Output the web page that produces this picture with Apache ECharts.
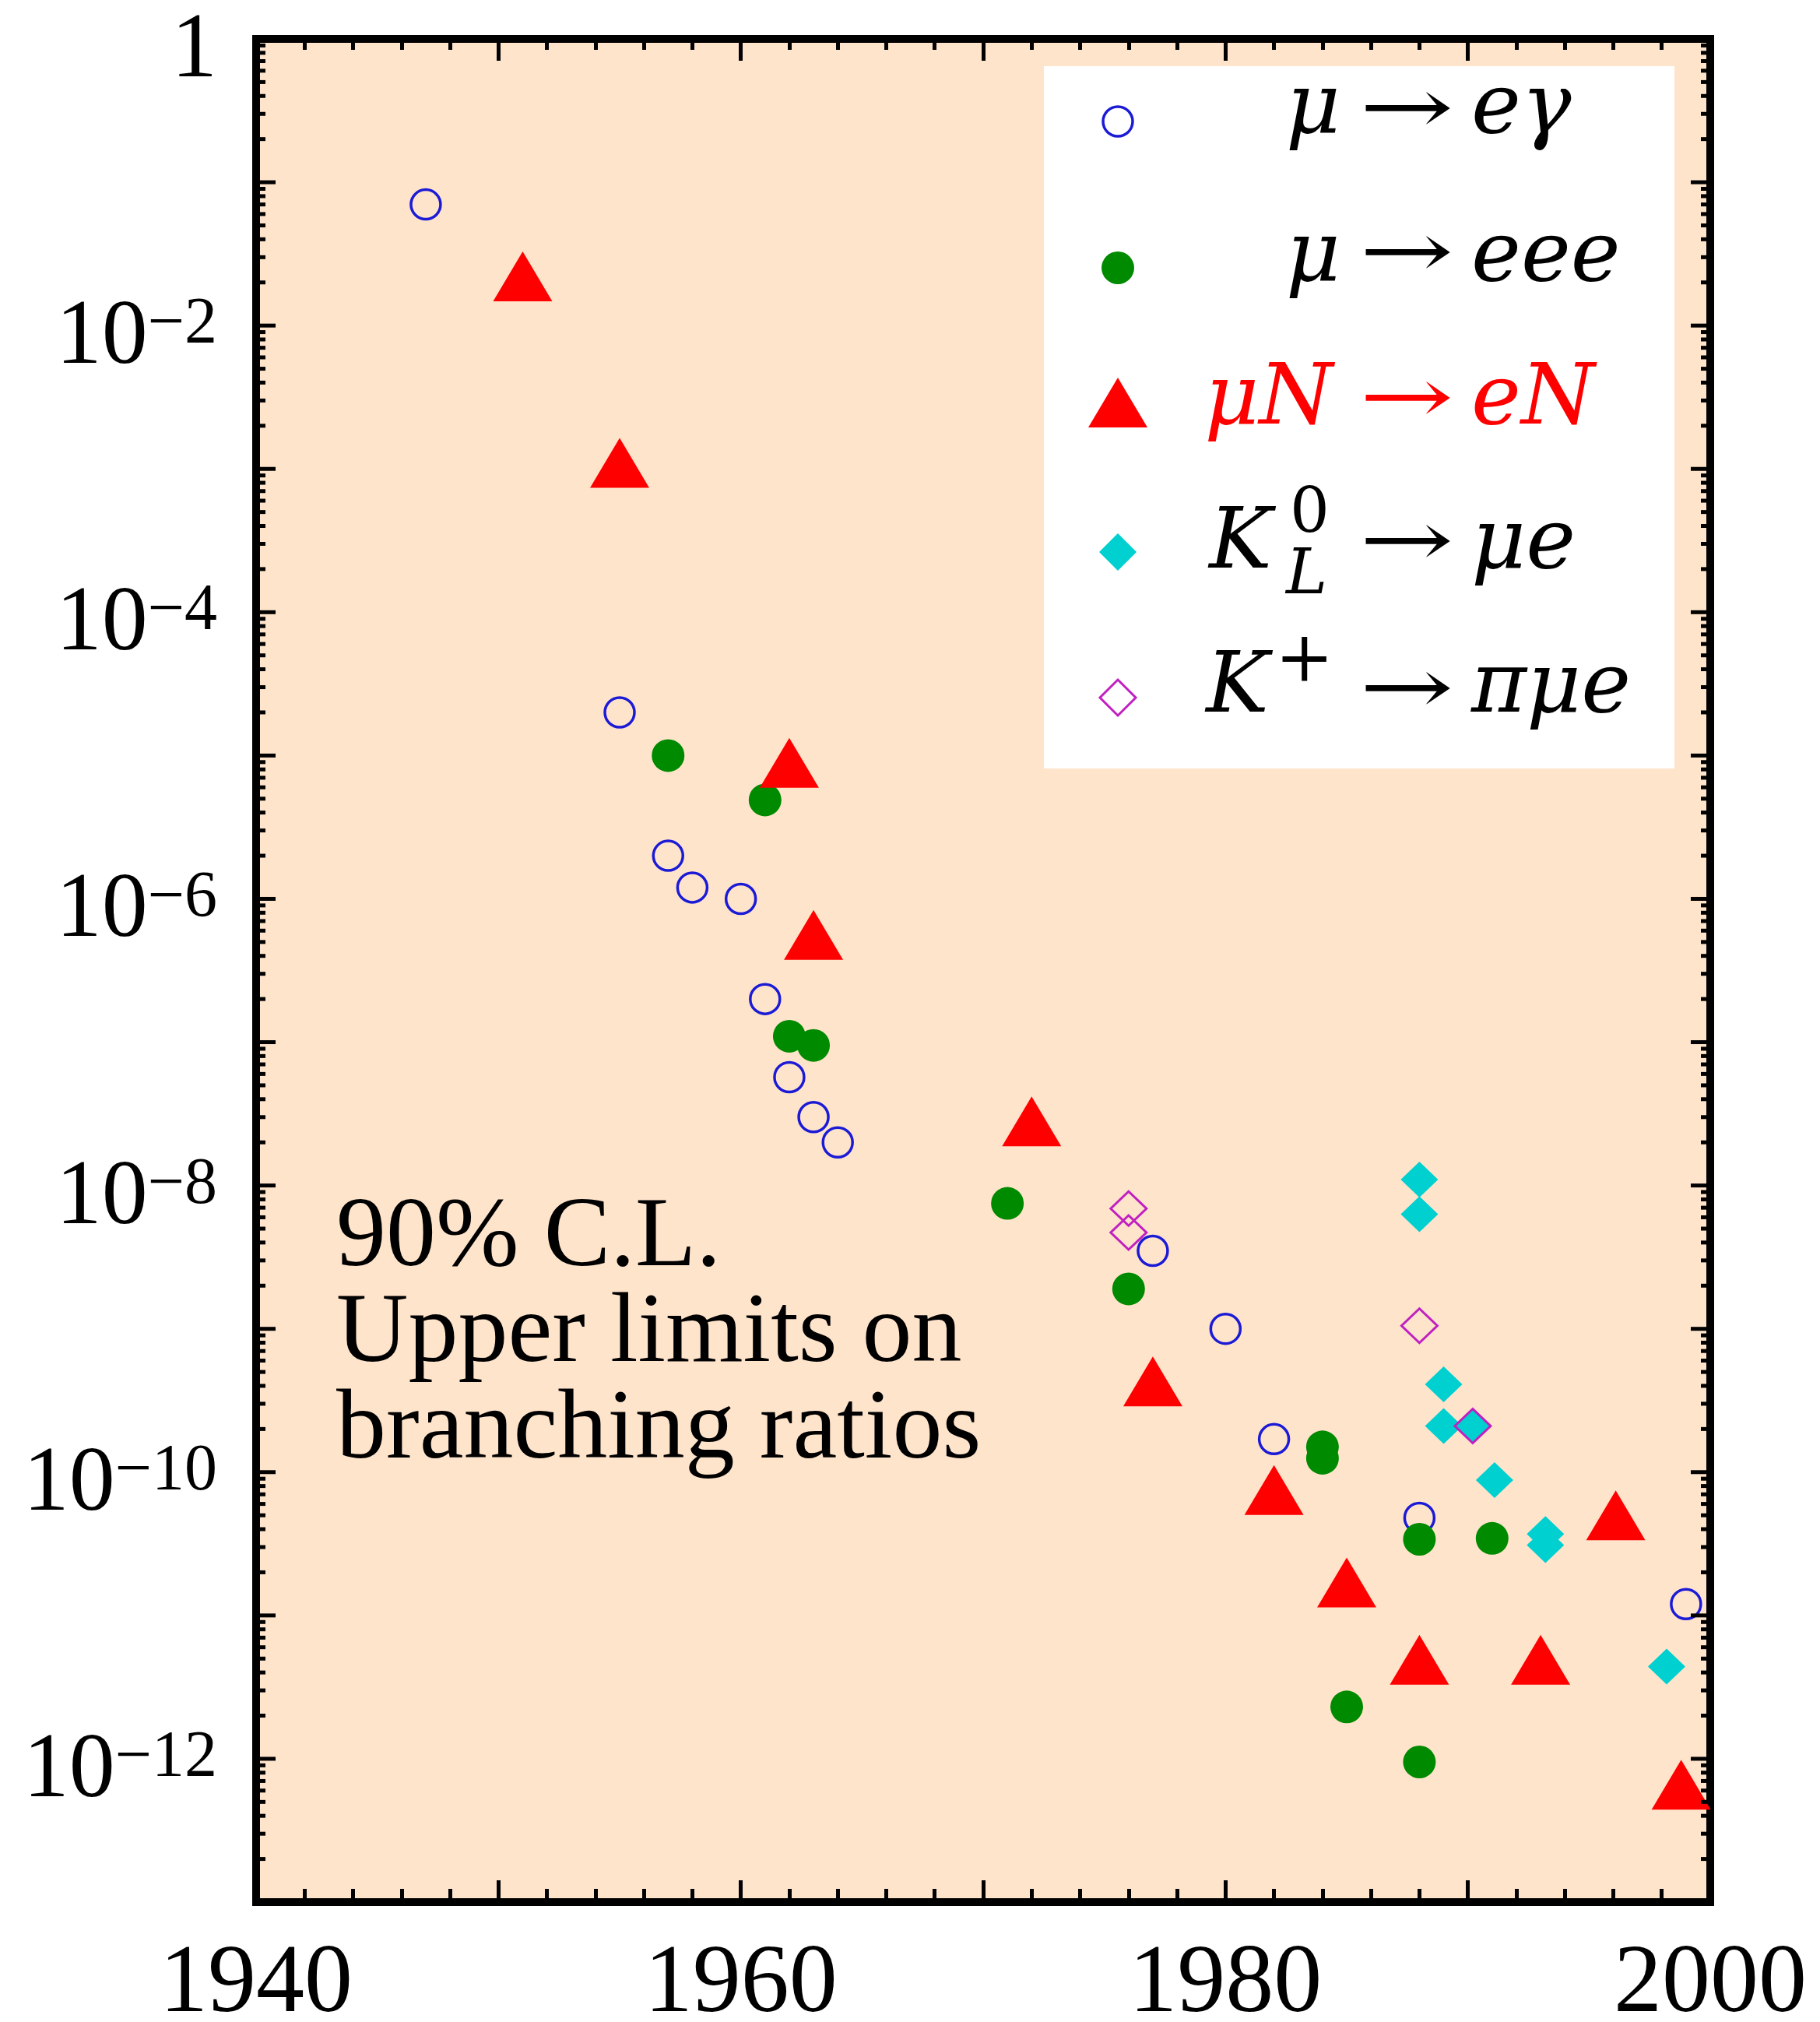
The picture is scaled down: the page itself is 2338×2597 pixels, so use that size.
<!DOCTYPE html>
<html><head><meta charset="utf-8">
<script src="https://cdn.jsdelivr.net/npm/echarts@6/dist/echarts.min.js"></script>
<style>html,body{margin:0;padding:0;background:#fff}#c{width:2338px;height:2597px}</style>
</head><body><div id="c"></div>
<script>
// ---- data: [year, upper limit on branching ratio] ----
const muToEGamma = [[1947,0.07],[1955,2.0e-5],[1957,2.0e-6],[1958,1.2e-6],[1960,1.0e-6],[1961,2.0e-7],[1962,5.7e-8],[1963,3.0e-8],[1964,2.0e-8],[1977,3.5e-9],[1980,1.0e-9],[1982,1.7e-10],[1988,4.8e-11],[1999,1.2e-11]];
const muToEEE = [[1957,1.0e-5],[1961,4.9e-6],[1962,1.1e-7],[1963,9.5e-8],[1971,7.5e-9],[1976,1.9e-9],[1984,1.5e-10],[1984,1.25e-10],[1985,2.3e-12],[1988,3.4e-11],[1988,9.5e-13],[1991,3.45e-11]];
const muNToEN = [[1951,2.2e-2],[1955,1.1e-3],[1962,8.9e-6],[1963,5.6e-7],[1972,2.8e-8],[1977,4.3e-10],[1982,7.5e-11],[1985,1.7e-11],[1988,4.9e-12],[1993,4.9e-12],[1996.1,5.0e-11],[1998.8,6.6e-13]];
const kL0ToMuE = [[1988,1.1e-8],[1988,6.3e-9],[1989,4.1e-10],[1989,2.1e-10],[1990.2,2.1e-10],[1991.1,8.8e-11],[1993.2,3.7e-11],[1993.2,3.1e-11],[1998.2,4.4e-12]];
const kPlusToPiMuE = [[1976,6.9e-9],[1976,4.7e-9],[1988,1.05e-9],[1990.2,2.1e-10]];

const seriesNames = ['μ → eγ','μ → eee','μN → eN','K_L^0 → μe','K^+ → πμe'];
const xLabelYears = [1940, 1960, 1980, 2000];
const yLabelExponents = [0, -2, -4, -6, -8, -10, -12];
const yDecades = [-13,-12,-11,-10,-9,-8,-7,-6,-5,-4,-3,-2,-1,0];
const yMinorMultipliers = [2,3,4,5,6,7,8,9];
const noteLines = ['90% C.L.', 'Upper limits on', 'branching ratios'];

// tick positions on the log axis (decoration, placed through the axis scale)
const yTickData = [];
yDecades.forEach(function (d) {
  yTickData.push([1940, Math.pow(10, d), 1]);
  if (d < 0) yMinorMultipliers.forEach(function (m) { yTickData.push([1940, m * Math.pow(10, d), 0]); });
});

const SERIF = 'Liberation Serif';
const MATH = 'DejaVu Serif';
const chart = echarts.init(document.getElementById('c'), null, {renderer: 'canvas'});

function yLabel(v) {
  const e = Math.round(Math.log10(v));
  if (yLabelExponents.indexOf(e) < 0) return '';
  if (e === 0) return '{b|1}';
  return '{b|10}{s|\u2212' + (-e) + '}';
}

const tickLine = {color: '#000', width: 5};

// legend pieces (real text)
const legendFont = 108, scriptFont = 80;
function t(x, y, text, opts) {
  return {type: 'text', x: x, y: y, z: 100, style: Object.assign({
    text: text, fill: '#000', fontFamily: MATH, fontSize: legendFont,
    fontStyle: 'italic', align: 'left', verticalAlign: 'middle'}, opts || {})};
}
function arrow(y, color) {
  return {type: 'text', x: 1807, y: y, z: 100, scaleX: 1.45, style: {
    text: '→', fill: color || '#000', fontFamily: MATH, fontSize: 100, align: 'center', verticalAlign: 'middle'}};
}
const rowY = [142, 332, 516, 701, 886];
const arrowY = [145, 330, 517, 701, 890];
const LX = 1722, RX = 1890;

const graphics = [
  {type: 'rect', z: 90, shape: {x: 1341, y: 85, width: 810, height: 902}, style: {fill: '#fff'}},
  // markers
  {type: 'circle', z: 100, shape: {cx: 1436, cy: 156, r: 19}, style: {fill: 'none', stroke: '#1b1bd6', lineWidth: 3.5}},
  {type: 'circle', z: 100, shape: {cx: 1436, cy: 344, r: 21}, style: {fill: '#008a00'}},
  {type: 'polygon', z: 100, shape: {points: [[1436,485],[1474,549],[1398,549]]}, style: {fill: '#ff0000'}},
  {type: 'polygon', z: 100, shape: {points: [[1436,685],[1460,709],[1436,733],[1412,709]]}, style: {fill: '#00d0d0'}},
  {type: 'polygon', z: 100, shape: {points: [[1436,873],[1459,896],[1436,919],[1413,896]]}, style: {fill: 'none', stroke: '#c020c0', lineWidth: 3}},
  // row 1
  t(LX, rowY[0], 'μ', {align: 'right'}),
  arrow(arrowY[0]),
  t(RX, rowY[0], 'eγ'),
  // row 2
  t(LX, rowY[1], 'μ', {align: 'right'}),
  arrow(arrowY[1]),
  t(RX, rowY[1], 'eee'),
  // row 3 (red)
  t(1712, rowY[2], 'μN', {align: 'right', fill: '#ff0000'}),
  arrow(arrowY[2], '#ff0000'),
  t(RX, rowY[2], 'eN', {fill: '#ff0000'}),
  // row 4
  t(1634, rowY[3], 'K', {align: 'right'}),
  t(1657, 662, '0', {fontStyle: 'normal', fontSize: scriptFont}),
  t(1652, 741, 'L', {fontSize: scriptFont}),
  arrow(arrowY[3]),
  t(RX, rowY[3], 'μe'),
  // row 5
  t(1630, rowY[4], 'K', {align: 'right'}),
  t(1638, 852, '+', {fontStyle: 'normal', fontSize: 90}),
  arrow(arrowY[4]),
  t(RX, rowY[4], 'πμe')
];
// annotation
const noteMid = [1591, 1714, 1838];
noteLines.forEach(function (s, i) {
  graphics.push({type: 'text', x: 432, y: noteMid[i], z: 100, style: {text: s, fill: '#000', fontFamily: SERIF, fontSize: 128, align: 'left', verticalAlign: 'middle'}});
});

const option = {
  animation: false,
  backgroundColor: '#fff',
  grid: {left: 329, right: 141, top: 50, bottom: 154, show: true, backgroundColor: '#ffe4cc',
         borderColor: '#000', borderWidth: 10, containLabel: false, outerBoundsMode: 'none'},
  xAxis: [
    {type: 'value', min: 1940, max: 2000, interval: 10, position: 'bottom',
     axisLine: {show: false}, splitLine: {show: false},
     axisTick: {show: true, inside: true, length: 28, lineStyle: tickLine},
     minorTick: {show: true, splitNumber: 5, length: 17, lineStyle: tickLine},
     axisLabel: {show: true, margin: 45, fontFamily: SERIF, fontSize: 124, color: '#000',
       formatter: function (v) { return xLabelYears.indexOf(v) >= 0 ? String(v) : ''; }}},
    {type: 'value', min: 1940, max: 2000, interval: 10, position: 'top',
     axisLine: {show: false}, splitLine: {show: false},
     axisTick: {show: true, inside: true, length: 28, lineStyle: tickLine},
     minorTick: {show: true, splitNumber: 5, length: 14, lineStyle: tickLine},
     axisLabel: {show: false}}
  ],
  yAxis: {type: 'log', logBase: 10, min: 1e-13, max: 1, interval: 1,
    axisLine: {show: false}, splitLine: {show: false}, axisTick: {show: false},
    axisLabel: {margin: 50, padding: [34, 0, 0, 0], formatter: yLabel,
      rich: {b: {fontFamily: SERIF, fontSize: 118, color: '#000'},
             s: {fontFamily: SERIF, fontSize: 84, color: '#000', verticalAlign: 'top'}}}},
  series: [
    {type: 'custom', name: 'yticks', xAxisIndex: 0, z: 5, silent: true, data: yTickData,
     renderItem: function (params, api) {
       const p = api.coord([api.value(0), api.value(1)]);
       const cs = params.coordSys;
       const len = api.value(2) ? 25 : 12;
       return {type: 'group', children: [
         {type: 'line', shape: {x1: cs.x, y1: p[1], x2: cs.x + len, y2: p[1]}, style: {stroke: '#000', lineWidth: 5}},
         {type: 'line', shape: {x1: cs.x + cs.width, y1: p[1], x2: cs.x + cs.width - len, y2: p[1]}, style: {stroke: '#000', lineWidth: 5}}
       ]};
     }},
    {type: 'scatter', name: seriesNames[0], data: muToEGamma, symbol: 'circle', symbolSize: 38,
     itemStyle: {color: 'rgba(0,0,0,0)', borderColor: '#1b1bd6', borderWidth: 3.5, opacity: 1}},
    {type: 'scatter', name: seriesNames[1], data: muToEEE, symbol: 'circle', symbolSize: 42,
     itemStyle: {color: '#008a00', opacity: 1}},
    {type: 'scatter', name: seriesNames[2], data: muNToEN, symbol: 'triangle', symbolSize: [76, 64],
     itemStyle: {color: '#ff0000', opacity: 1}},
    {type: 'scatter', name: seriesNames[3], data: kL0ToMuE, symbol: 'diamond', symbolSize: [48, 46],
     itemStyle: {color: '#00d0d0', opacity: 1}},
    {type: 'scatter', name: seriesNames[4], data: kPlusToPiMuE, symbol: 'diamond', symbolSize: [46, 44],
     itemStyle: {color: 'rgba(0,0,0,0)', borderColor: '#c020c0', borderWidth: 3, opacity: 1}}
  ],
  graphic: graphics
};
chart.setOption(option);
</script>
</body></html>
